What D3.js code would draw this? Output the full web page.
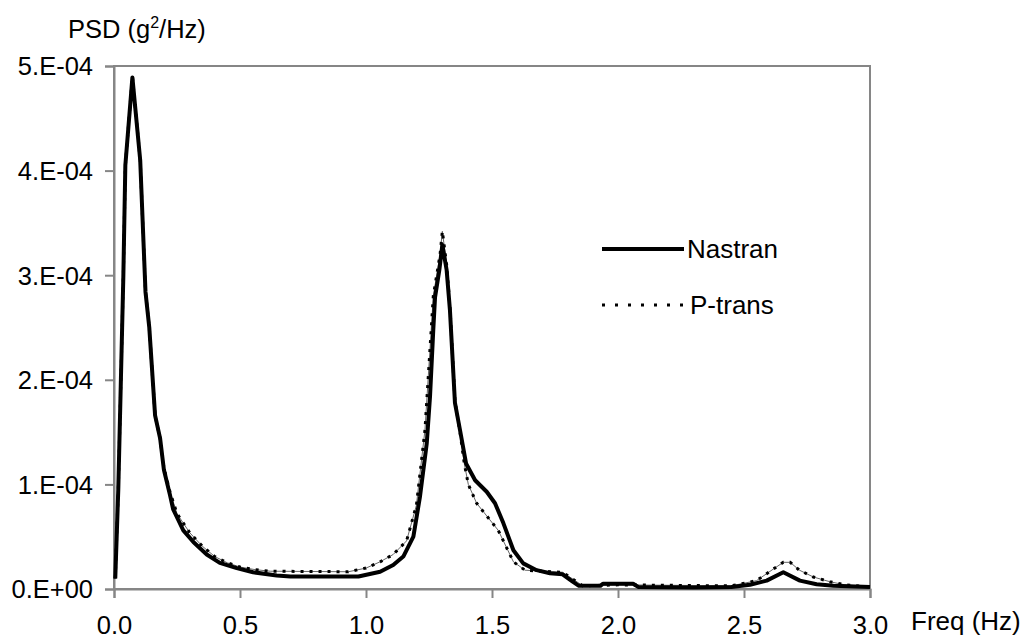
<!DOCTYPE html>
<html>
<head>
<meta charset="utf-8">
<script src="https://cdn.jsdelivr.net/npm/d3@7"></script>
<style>
  body { margin: 0; background: #fff; }
  svg { display: block; font-family: "Liberation Sans", Arial, sans-serif; }
</style>
</head>
<body>
<div id="chart"></div>
<script>
// values
const nastranFreq = [0.005, 0.017, 0.037, 0.045, 0.073, 0.104, 0.125, 0.14, 0.163, 0.183, 0.198, 0.222,
  0.235, 0.275, 0.315, 0.368, 0.42, 0.487, 0.552, 0.646, 0.7, 0.97, 1.056, 1.108, 1.148, 1.188,
  1.214, 1.241, 1.254, 1.267, 1.274, 1.291, 1.303, 1.32, 1.333, 1.353, 1.373, 1.397, 1.433,
  1.479, 1.512, 1.545, 1.585, 1.624, 1.677, 1.73, 1.78, 1.82, 1.845, 1.93, 1.94, 2.06, 2.08,
  2.3, 2.45, 2.524, 2.59, 2.656, 2.722, 2.788, 2.855, 3.0];
const nastranPsd = [1.0e-5, 0.95e-4, 2.98e-4, 4.05e-4, 4.89e-4, 4.1e-4, 2.84e-4, 2.5e-4, 1.66e-4, 1.44e-4, 1.14e-4, 0.9e-4,
  0.76e-4, 0.56e-4, 0.45e-4, 0.33e-4, 0.25e-4, 0.2e-4, 0.16e-4, 0.13e-4, 0.12e-4, 0.12e-4, 0.165e-4, 0.23e-4, 0.31e-4, 0.5e-4,
  0.88e-4, 1.39e-4, 1.84e-4, 2.48e-4, 2.79e-4, 3.05e-4, 3.29e-4, 3.05e-4, 2.67e-4, 1.78e-4, 1.52e-4, 1.2e-4, 1.04e-4,
  0.93e-4, 0.82e-4, 0.63e-4, 0.37e-4, 0.245e-4, 0.18e-4, 0.15e-4, 0.14e-4, 0.07e-4, 0.03e-4, 0.03e-4, 0.05e-4, 0.05e-4, 0.02e-4,
  0.015e-4, 0.02e-4, 0.04e-4, 0.08e-4, 0.16e-4, 0.08e-4, 0.045e-4, 0.03e-4, 0.02e-4];

const ptransFreq = [0.005, 0.017, 0.037, 0.045, 0.073, 0.104, 0.125, 0.14, 0.163, 0.183, 0.198, 0.222,
  0.25, 0.3, 0.35, 0.4, 0.45, 0.5, 0.56, 0.62, 0.93, 1.0, 1.056, 1.108, 1.161, 1.2, 1.234, 1.267,
  1.294, 1.303, 1.32, 1.333, 1.353, 1.373, 1.39, 1.406, 1.439, 1.525, 1.585, 1.631, 1.7, 1.78,
  1.83, 1.86, 2.0, 2.45, 2.55, 2.616, 2.656, 2.683, 2.72, 2.775, 2.84, 2.9, 3.0];
const ptransPsd = [1.0e-5, 0.95e-4, 2.98e-4, 4.05e-4, 4.9e-4, 4.1e-4, 2.84e-4, 2.5e-4, 1.66e-4, 1.44e-4, 1.16e-4, 0.93e-4,
  0.72e-4, 0.54e-4, 0.41e-4, 0.31e-4, 0.25e-4, 0.21e-4, 0.185e-4, 0.17e-4, 0.165e-4, 0.2e-4, 0.26e-4, 0.33e-4, 0.46e-4, 0.8e-4, 1.52e-4, 2.8e-4,
  3.2e-4, 3.42e-4, 3.1e-4, 2.7e-4, 1.8e-4, 1.5e-4, 1.2e-4, 1.0e-4, 0.82e-4, 0.56e-4, 0.26e-4, 0.18e-4, 0.17e-4, 0.16e-4,
  0.08e-4, 0.03e-4, 0.04e-4, 0.03e-4, 0.08e-4, 0.19e-4, 0.255e-4, 0.255e-4, 0.18e-4, 0.115e-4, 0.07e-4, 0.04e-4, 0.02e-4];

const xTicks = [0, 0.5, 1.0, 1.5, 2.0, 2.5, 3.0];
const yTicks = [0, 1e-4, 2e-4, 3e-4, 4e-4, 5e-4];
const seriesNames = ['Nastran', 'P-trans'];

const width = 1025, height = 643;
const margin = { top: 66, right: 155, bottom: 54, left: 114 };
const axisColor = '#868686';

const svg = d3.select('#chart').append('svg')
  .attr('width', width)
  .attr('height', height);

const x = d3.scaleLinear().domain([0, 3]).range([margin.left, width - margin.right]);
const y = d3.scaleLinear().domain([0, 5e-4]).range([height - margin.bottom, margin.top]);

// plot area border
svg.append('rect')
  .attr('x', x(0)).attr('y', y(5e-4))
  .attr('width', x(3) - x(0)).attr('height', y(0) - y(5e-4))
  .attr('fill', 'none').attr('stroke', axisColor).attr('stroke-width', 2);

const yFormat = v => v === 0 ? '0.E+00' : `${Math.round(v * 1e4)}.E-04`;

const yAxis = svg.append('g')
  .attr('transform', `translate(${x(0)},0)`)
  .call(d3.axisLeft(y).tickValues(yTicks).tickFormat(yFormat).tickSize(9).tickPadding(12));

const xAxis = svg.append('g')
  .attr('transform', `translate(0,${y(0)})`)
  .call(d3.axisBottom(x).tickValues(xTicks).tickFormat(d3.format('.1f')).tickSize(9).tickPadding(18));

[yAxis, xAxis].forEach(g => {
  g.selectAll('.domain, .tick line').attr('stroke', axisColor).attr('stroke-width', 2);
  g.selectAll('.tick text').attr('font-size', 25.5).attr('fill', '#000')
    .attr('font-family', '"Liberation Sans", Arial, sans-serif');
});
yAxis.selectAll('.tick text').attr('dy', '0.35em');

// series
const nastranData = nastranFreq.map((f, i) => [f, nastranPsd[i]]);
const ptransData = ptransFreq.map((f, i) => [f, ptransPsd[i]]);

const line = d3.line().x(d => x(d[0])).y(d => y(d[1]));

svg.append('path')
  .datum(ptransData)
  .attr('d', line)
  .attr('fill', 'none')
  .attr('stroke', '#666')
  .attr('stroke-width', 1);

svg.append('path')
  .datum(nastranData)
  .attr('d', line)
  .attr('fill', 'none')
  .attr('stroke', '#000')
  .attr('stroke-width', 4)
  .attr('stroke-linejoin', 'round');

svg.append('path')
  .datum(ptransData)
  .attr('d', line)
  .attr('fill', 'none')
  .attr('stroke', '#000')
  .attr('stroke-width', 3)
  .attr('stroke-dasharray', '3,6');

// legend
const legend = svg.append('g').attr('transform', 'translate(602,249)');
legend.append('line')
  .attr('x1', 0).attr('x2', 82).attr('y1', 0).attr('y2', 0)
  .attr('stroke', '#000').attr('stroke-width', 4);
legend.append('line')
  .attr('x1', 0).attr('x2', 84).attr('y1', 56).attr('y2', 56)
  .attr('stroke', '#000').attr('stroke-width', 3).attr('stroke-dasharray', '3,10');
seriesNames.forEach((name, i) => {
  legend.append('text')
    .attr('x', i === 0 ? 85 : 88)
    .attr('y', i * 56)
    .attr('dy', '0.35em')
    .attr('font-size', 26)
    .text(name);
});

// axis titles
const yTitle = svg.append('text')
  .attr('x', 68).attr('y', 38)
  .attr('font-size', 25.5);
yTitle.append('tspan').text('PSD (g');
yTitle.append('tspan').attr('font-size', 16).attr('dy', -10).text('2');
yTitle.append('tspan').attr('dy', 10).text('/Hz)');

svg.append('text')
  .attr('x', 911).attr('y', 630)
  .attr('font-size', 26)
  .text('Freq (Hz)');
</script>
</body>
</html>
